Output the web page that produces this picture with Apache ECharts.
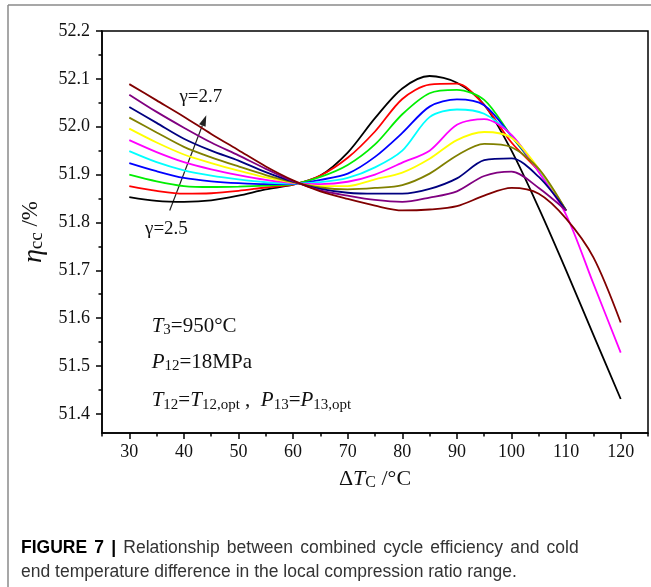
<!DOCTYPE html>
<html><head><meta charset="utf-8">
<script src="https://cdn.jsdelivr.net/npm/echarts@6/dist/echarts.min.js"></script>
<style>html,body{margin:0;padding:0;background:#fff}#c{width:651px;height:587px}</style>
</head><body><div id="c"></div>
<script>
// ---- data ----
const xValues = [30,35,40,45,50,55,60,65,70,75,80,85,90,95,100,105,110,115,120];
const gammaLabels = ['2.50','2.52','2.54','2.56','2.58','2.60','2.62','2.64','2.66','2.68','2.70'];
const black   = [51.853,51.845,51.843,51.846,51.856,51.869,51.879,51.898,51.946,52.018,52.080,52.106,52.092,52.046,51.950,51.830,51.700,51.565,51.431];
const red     = [51.876,51.866,51.860,51.861,51.866,51.873,51.879,51.898,51.935,51.990,52.058,52.088,52.090,52.045,51.967,51.907,51.825];
const green   = [51.900,51.886,51.876,51.874,51.875,51.877,51.880,51.895,51.920,51.963,52.026,52.070,52.077,52.056,51.980,51.907,51.825];
const blue    = [51.924,51.907,51.893,51.886,51.882,51.880,51.880,51.889,51.902,51.937,51.987,52.042,52.057,52.045,51.980,51.909,51.825];
const cyan    = [51.949,51.926,51.909,51.898,51.890,51.884,51.881,51.884,51.893,51.915,51.950,52.020,52.036,52.027,51.982,51.909,51.825];
const magenta = [51.972,51.947,51.926,51.911,51.899,51.889,51.882,51.880,51.885,51.900,51.925,51.950,52.004,52.016,51.983,51.905,51.816,51.672,51.528];
const yellow  = [51.996,51.967,51.942,51.924,51.908,51.894,51.883,51.876,51.876,51.890,51.904,51.933,51.972,51.989,51.977,51.912,51.825];
const olive   = [52.019,51.988,51.958,51.936,51.917,51.899,51.884,51.873,51.869,51.872,51.878,51.902,51.940,51.964,51.957,51.912,51.825];
const navy    = [52.041,52.008,51.975,51.950,51.929,51.905,51.885,51.870,51.862,51.860,51.860,51.870,51.892,51.930,51.934,51.895,51.825];
const purple  = [52.067,52.031,51.998,51.967,51.940,51.912,51.886,51.867,51.856,51.847,51.843,51.852,51.865,51.897,51.906,51.872,51.825];
const wine    = [52.089,52.055,52.021,51.985,51.951,51.917,51.888,51.865,51.849,51.835,51.825,51.827,51.834,51.856,51.872,51.860,51.808,51.727,51.591];
const xMajorTicks = [30,40,50,60,70,80,90,100,110,120];
const xMinorTicks = [25,35,45,55,65,75,85,95,105,115,125];
const yMajorTicks = [51.4,51.5,51.6,51.7,51.8,51.9,52.0,52.1,52.2];
const yMinorTicks = [51.45,51.55,51.65,51.75,51.85,51.95,52.05,52.15];
const captionBold = ['FIGURE','7','|'];
const captionLine1 = ['Relationship','between','combined','cycle','efficiency','and','cold'];
const captionLine2 = 'end temperature difference in the local compression ratio range.';

const allSeries = [black,red,green,blue,cyan,magenta,yellow,olive,navy,purple,wine];
const colors = ['#000000','#ff0000','#00ee00','#0000ff','#00ffff','#ff00ff','#ffff00','#808000','#000080','#800080','#800000'];

const SERIF = '"Liberation Serif","Times New Roman",serif';
const SANS = '"Liberation Sans",Arial,sans-serif';
const chart = echarts.init(document.getElementById('c'), null, {renderer:'canvas'});
const X0 = 25, X1 = 125, Y0 = 51.36, Y1 = 52.2;

const axisBase = {
  axisLine:{show:true,onZero:false,lineStyle:{color:'#000',width:1.5}},
  splitLine:{show:false}
};
const option = {
  animation:false,
  grid:{left:102,top:31,right:3,bottom:154,show:true,borderColor:'#000',borderWidth:1.5,backgroundColor:'transparent'},
  xAxis:[
    Object.assign({type:'value',min:X0,max:X1,position:'bottom',
      axisTick:{show:true,length:6,customValues:xMajorTicks,lineStyle:{color:'#000',width:1.5}},
      axisLabel:{show:true,customValues:xMajorTicks,margin:10,fontFamily:SERIF,fontSize:18,color:'#111'},
      name:'{d|Δ}{i|T}{s|C}{n| /°C}',nameLocation:'middle',nameGap:35,
      nameTextStyle:{rich:{
        d:{fontFamily:SERIF,fontSize:22,color:'#111',verticalAlign:'top',lineHeight:23},
        i:{fontFamily:SERIF,fontSize:22,fontStyle:'italic',color:'#111',verticalAlign:'top',lineHeight:23},
        s:{fontFamily:SERIF,fontSize:16,color:'#111',verticalAlign:'bottom',lineHeight:14},
        n:{fontFamily:SERIF,fontSize:22,color:'#111',verticalAlign:'top',lineHeight:23}
      }}
    },axisBase),
    {type:'value',min:X0,max:X1,position:'bottom',axisLine:{show:false},splitLine:{show:false},
      axisTick:{show:true,length:3.5,customValues:xMinorTicks,lineStyle:{color:'#000',width:1.5}},
      axisLabel:{show:false}}
  ],
  yAxis:[
    Object.assign({type:'value',min:Y0,max:Y1,position:'left',
      axisTick:{show:true,length:6,customValues:yMajorTicks,lineStyle:{color:'#000',width:1.5}},
      axisLabel:{show:true,customValues:yMajorTicks,margin:12,fontFamily:SERIF,fontSize:18,color:'#111',
        formatter:v=>v.toFixed(1)},
      name:'{i|η}{s|cc}{n| /%}',nameLocation:'middle',nameGap:54,nameRotate:90,
      nameTextStyle:{rich:{
        i:{fontFamily:SERIF,fontSize:28,fontStyle:'italic',color:'#111',verticalAlign:'top',lineHeight:27},
        s:{fontFamily:SERIF,fontSize:19,color:'#111',verticalAlign:'bottom',lineHeight:15},
        n:{fontFamily:SERIF,fontSize:23,color:'#111',verticalAlign:'top',lineHeight:27}
      }}
    },axisBase),
    {type:'value',min:Y0,max:Y1,position:'left',axisLine:{show:false},splitLine:{show:false},
      axisTick:{show:true,length:3.5,customValues:yMinorTicks,lineStyle:{color:'#000',width:1.5}},
      axisLabel:{show:false}}
  ],
  series: allSeries.map((arr,k)=>({
    type:'line',name:'γ='+gammaLabels[k],xAxisIndex:0,yAxisIndex:0,
    data: arr.map((v,i)=>[xValues[i],v]),
    showSymbol:false,smooth:0.3,
    lineStyle:{color:colors[k],width:1.8},itemStyle:{color:colors[k]}
  }))
};
chart.setOption(option);

// annotations placed via data coordinates
const p = (x,y)=>chart.convertToPixel({xAxisIndex:0,yAxisIndex:0},[x,y]);
const arrowFrom = [37.4,51.825], arrowTo = [44.1,52.024];
const a0 = p(arrowFrom[0],arrowFrom[1]), a1 = p(arrowTo[0],arrowTo[1]);
const ang = Math.atan2(a1[1]-a0[1],a1[0]-a0[0]);
const hl = 11, hw = 3.5;
const base = [a1[0]-hl*Math.cos(ang),a1[1]-hl*Math.sin(ang)];
const head = [a1,[base[0]+hw*Math.sin(ang),base[1]-hw*Math.cos(ang)],[base[0]-hw*Math.sin(ang),base[1]+hw*Math.cos(ang)]];
const g27 = p(43.1,52.062), g25 = p(36.8,51.787);
const t1 = p(34.1,51.582), t2 = p(34.1,51.507), t3 = p(34.1,51.426);
const richT = {
  i:{fontFamily:SERIF,fontSize:21,fontStyle:'italic',fill:'#111',verticalAlign:'top',lineHeight:22},
  n:{fontFamily:SERIF,fontSize:21,fill:'#111',verticalAlign:'top',lineHeight:22},
  s:{fontFamily:SERIF,fontSize:15,fill:'#111',verticalAlign:'bottom',lineHeight:14}
};
// justified first caption line: words joined with widened gaps
const cap1 = captionBold.map(w=>'{b|'+w+'}').join('{w| }') + '{w| }' + captionLine1.map(w=>'{r|'+w+'}').join('{w| }');
chart.setOption({graphic:[
  {type:'line',shape:{x1:8,y1:5,x2:651,y2:5},style:{stroke:'#8a8a8a',lineWidth:1.5},silent:true},
  {type:'line',shape:{x1:8,y1:5,x2:8,y2:587},style:{stroke:'#8a8a8a',lineWidth:1.5},silent:true},
  {type:'line',shape:{x1:a0[0],y1:a0[1],x2:base[0],y2:base[1]},style:{stroke:'#222',lineWidth:1.2}},
  {type:'polygon',shape:{points:head},style:{fill:'#222'}},
  {type:'text',x:g27[0],y:g27[1],style:{text:'γ=2.7',font:'19px '+SERIF,fill:'#111',textAlign:'center',textVerticalAlign:'middle'}},
  {type:'text',x:g25[0],y:g25[1],style:{text:'γ=2.5',font:'19px '+SERIF,fill:'#111',textAlign:'center',textVerticalAlign:'middle'}},
  {type:'text',x:t1[0],y:t1[1],style:{text:'{i|T}{s|3}{n|=950°C}',rich:richT,textAlign:'left',textVerticalAlign:'middle'}},
  {type:'text',x:t2[0],y:t2[1],style:{text:'{i|P}{s|12}{n|=18MPa}',rich:richT,textAlign:'left',textVerticalAlign:'middle'}},
  {type:'text',x:t3[0],y:t3[1],style:{text:'{i|T}{s|12}{n|=}{i|T}{s|12,opt}{n| ,  }{i|P}{s|13}{n|=}{i|P}{s|13,opt}',rich:richT,textAlign:'left',textVerticalAlign:'middle'}},
  {type:'text',x:21,y:548,style:{text:cap1,
    rich:{b:{fontFamily:SANS,fontSize:17.5,fontWeight:'bold',fill:'#000'},
          r:{fontFamily:SANS,fontSize:17.5,fill:'#333'},
          w:{fontFamily:SANS,fontSize:17.5,width:7.2}},textVerticalAlign:'middle'}},
  {type:'text',x:21,y:572,style:{text:captionLine2,
    font:'17.5px '+SANS,fill:'#333',textVerticalAlign:'middle'}}
]});
</script></body></html>
